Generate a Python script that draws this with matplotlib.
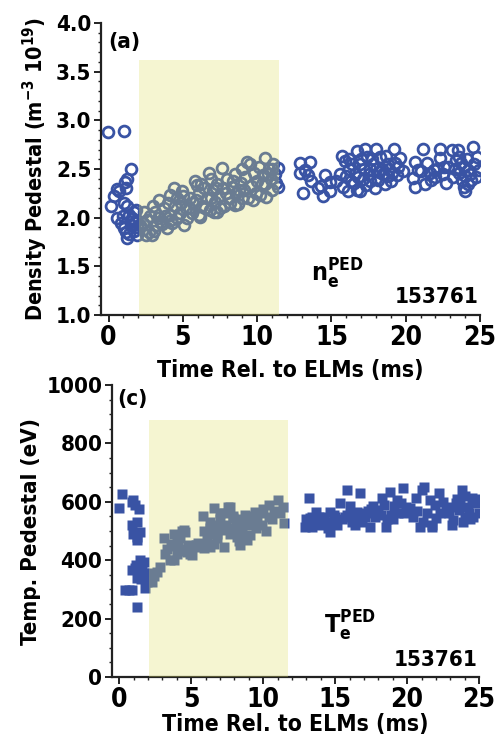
import matplotlib
matplotlib.use("Agg")
import matplotlib.pyplot as plt
from matplotlib.patches import Rectangle
from matplotlib.ticker import MultipleLocator, FormatStrFormatter
from matplotlib import font_manager

# ── Pedestal density, n_e (1e19 m^-3) vs time after ELM (ms) ─────────
ne_pre_t = [-0.05, 1.07, 1.52, 1.25, 1.14, 0.54, 0.70, 0.40, 0.18, 1.03, 1.25, 0.85, 1.37, 1.70,
            1.25, 1.70, 1.03, 1.81, 1.50, 0.95, 1.60, 1.15, 1.85, 0.60, 1.90, 1.40, 1.20, 1.90]
ne_pre_v = [2.88, 2.89, 2.50, 2.40, 2.37, 2.29, 2.27, 2.22, 2.12, 2.15, 2.12, 1.95, 2.03, 2.06,
            1.79, 1.86, 1.89, 1.96, 1.92, 2.02, 2.00, 1.85, 2.08, 2.00, 1.90, 1.83, 2.30, 1.82]

ne_mid_t = [2.10, 2.37, 2.50, 2.70, 3.04, 2.95, 3.15, 3.38, 3.50, 3.30, 3.70, 3.94, 4.00, 4.16,
            4.16, 4.30, 4.50, 4.60, 4.80, 4.94, 5.05, 5.20, 5.39, 5.50, 5.70, 5.95, 6.06, 6.10,
            6.30, 6.40, 6.60, 6.73, 6.80, 7.00, 7.07, 7.18, 7.30, 7.40, 7.63, 7.70, 7.80, 8.00,
            8.10, 8.30, 8.50, 8.60, 8.70, 8.90, 9.00, 9.10, 9.30, 9.40, 9.50, 9.60, 9.80, 9.90,
            10.0, 10.1, 10.2, 10.4, 10.5, 10.54, 10.6, 10.8, 10.9, 11.0, 11.1, 11.2, 11.3,
            5.80, 4.40, 6.90, 3.20, 6.17, 8.50, 7.30,
            2.30, 2.60, 2.80, 3.00, 3.60, 3.80, 4.20, 4.60, 4.90, 5.30, 5.60, 5.90, 6.20, 6.50,
            6.90, 7.20, 7.50, 7.90, 8.20, 8.40, 8.80, 9.20, 9.70, 10.3, 10.7, 11.0, 9.00, 5.00]
ne_mid_v = [1.92, 2.06, 1.82, 1.85, 1.86, 1.82, 2.06, 2.18, 1.96, 2.00, 2.10, 1.89, 2.15, 2.03,
            2.23, 1.95, 2.12, 2.20, 2.05, 2.27, 1.92, 2.10, 2.10, 2.20, 2.15, 2.34, 2.03, 2.25,
            2.12, 2.30, 2.20, 2.46, 2.08, 2.28, 2.06, 2.16, 2.35, 2.22, 2.51, 2.30, 2.12, 2.40,
            2.20, 2.32, 2.45, 2.25, 2.14, 2.36, 2.50, 2.28, 2.57, 2.20, 2.55, 2.33, 2.46, 2.25,
            2.38, 2.52, 2.23, 2.44, 2.61, 2.35, 2.21, 2.50, 2.40, 2.28, 2.55, 2.45, 2.36,
            2.38, 2.30, 2.40, 1.92, 2.01, 2.13, 2.06,
            1.95, 1.98, 2.02, 2.12, 1.93, 2.02, 1.98, 2.00, 2.15, 2.00, 2.05, 2.18, 2.35, 2.10,
            2.20, 2.30, 2.10, 2.25, 2.15, 2.38, 2.28, 2.42, 2.18, 2.35, 2.45, 2.50, 2.20, 2.22]

ne_post_t = [11.43, 11.43, 12.89, 13.56, 13.22, 13.10, 13.40, 14.10, 14.56, 14.90, 14.90, 14.30,
             15.68, 15.80, 16.13, 16.20, 15.90, 16.70, 17.25, 16.80, 17.20, 16.90, 17.30, 16.50,
             16.40, 17.00, 17.50, 17.60, 17.80, 18.00, 17.70, 18.00, 18.10, 18.30, 18.50, 18.70,
             18.80, 19.20, 19.30, 19.60, 19.40, 18.90, 18.40, 19.00, 19.50, 20.60, 20.50, 20.60,
             21.16, 21.40, 21.60, 21.70, 21.00, 22.30, 22.30, 22.10, 22.00, 22.85, 23.10, 23.50,
             23.40, 23.60, 23.80, 23.90, 24.00, 24.20, 24.50, 24.80, 24.90, 24.40, 23.70, 24.10,
             23.90, 24.30, 24.00, 24.60, 16.60, 17.10, 18.20, 16.00, 16.70, 21.90, 22.60,
             12.90, 13.60, 14.40, 15.30, 15.60, 16.30, 16.90, 17.40, 17.90, 18.60, 19.10, 19.80,
             20.80, 21.30, 22.50, 22.70, 23.30, 23.20, 24.70, 24.20, 23.60, 17.60, 18.80, 16.20]
ne_post_v = [2.51, 2.32, 2.56, 2.57, 2.49, 2.25, 2.44, 2.30, 2.44, 2.37, 2.27, 2.33,
             2.63, 2.32, 2.27, 2.50, 2.58, 2.68, 2.71, 2.42, 2.50, 2.27, 2.34, 2.36,
             2.55, 2.60, 2.45, 2.38, 2.55, 2.71, 2.60, 2.50, 2.39, 2.62, 2.45, 2.63,
             2.43, 2.71, 2.56, 2.61, 2.44, 2.50, 2.50, 2.38, 2.52, 2.57, 2.41, 2.32,
             2.71, 2.56, 2.46, 2.39, 2.48, 2.71, 2.61, 2.50, 2.42, 2.52, 2.69, 2.69,
             2.59, 2.46, 2.39, 2.32, 2.27, 2.49, 2.73, 2.62, 2.49, 2.39, 2.56, 2.60,
             2.52, 2.45, 2.43, 2.55, 2.45, 2.40, 2.47, 2.43, 2.28, 2.49, 2.52,
             2.46, 2.38, 2.22, 2.38, 2.45, 2.38, 2.55, 2.62, 2.30, 2.35, 2.46, 2.48,
             2.49, 2.35, 2.45, 2.36, 2.50, 2.42, 2.42, 2.35, 2.62, 2.50, 2.55, 2.60]

# ── Pedestal temperature, T_e (eV) vs time after ELM (ms) ────────────
te_pre_t = [-0.05, 0.18, 0.99, 1.10, 0.90, 1.34, 0.88, 1.20, 0.93, 1.23, 1.46, 1.20, 0.88, 1.46,
            1.14, 1.46, 1.70, 1.20, 1.53, 1.92, 1.80, 0.42, 0.70, 0.88, 1.23, 1.10, 1.60, 1.30,
            1.75, 1.90]
te_pre_v = [578, 627, 606, 590, 600, 574, 520, 530, 490, 480, 495, 470, 366, 400,
            385, 366, 355, 340, 335, 343, 305, 298, 298, 298, 239, 375, 380, 350,
            395, 325]

te_mid_t = [2.27, 2.27, 2.40, 2.85, 3.08, 3.30, 3.54, 3.77, 3.77, 3.87, 4.00, 4.00, 4.20, 4.35,
            4.33, 4.47, 4.60, 4.70, 4.81, 4.90, 5.05, 5.30, 5.40, 5.85, 5.86, 5.85, 6.30, 6.30,
            6.30, 6.30, 6.55, 6.80, 6.80, 7.00, 7.00, 7.10, 7.25, 7.59, 7.70, 7.70, 7.90, 7.90,
            8.15, 8.20, 8.20, 8.30, 8.40, 8.50, 8.60, 8.75, 8.80, 9.00, 9.10, 9.44, 9.90, 10.2,
            10.4, 10.4, 10.75, 11.06, 11.4, 11.48, 5.60, 6.10, 7.40, 9.60, 10.0,
            2.60, 3.20, 3.60, 4.10, 4.50, 5.00, 5.50, 5.90, 6.60, 6.90, 7.30, 7.80, 8.10, 8.60,
            9.20, 9.50, 9.80, 10.6, 11.2, 8.90]
te_mid_v = [355, 325, 345, 378, 475, 440, 400, 490, 401, 450, 420, 486, 475, 500,
            440, 503, 495, 429, 452, 420, 418, 452, 452, 452, 441, 551, 510, 444,
            490, 530, 578, 490, 475, 560, 540, 505, 446, 583, 490, 583, 550, 545,
            480, 500, 520, 466, 452, 500, 480, 555, 550, 520, 486, 566, 520, 500,
            589, 548, 570, 606, 583, 528, 445, 470, 520, 540, 575,
            360, 420, 455, 465, 430, 440, 460, 500, 455, 520, 560, 510, 540, 530,
            545, 510, 560, 540, 560, 470]

te_post_t = [13.15, 12.90, 13.38, 13.70, 13.26, 13.40, 14.20, 14.50, 14.80, 14.65, 14.65, 14.30,
             13.90, 15.10, 15.00, 15.35, 15.80, 15.80, 15.70, 16.16, 16.00, 16.50, 16.70, 16.20,
             17.10, 17.40, 17.60, 17.30, 17.00, 16.80, 18.00, 18.25, 18.60, 18.50, 18.80, 18.20,
             17.80, 19.10, 19.30, 19.74, 19.60, 19.95, 19.40, 20.40, 20.60, 21.00, 21.20, 21.10,
             20.90, 21.60, 21.70, 21.70, 21.94, 22.20, 22.50, 22.70, 22.30, 23.00, 23.20, 23.40,
             23.80, 24.00, 24.20, 24.50, 24.80, 25.00, 24.60, 23.90, 23.60, 23.10, 24.30, 24.00,
             23.50, 17.50, 16.40,
             13.50, 14.00, 14.90, 15.50, 16.10, 16.90, 17.70, 18.40, 19.00, 19.80, 20.20, 20.70,
             21.40, 22.00, 22.90, 23.70, 24.40, 24.90, 12.95, 18.90]
te_post_v = [612, 515, 549, 566, 543, 515, 549, 509, 532, 566, 498, 532,
             549, 521, 549, 595, 640, 555, 549, 532, 584, 566, 629, 540,
             549, 515, 586, 570, 560, 545, 572, 612, 540, 515, 635, 555,
             548, 586, 606, 646, 595, 583, 560, 549, 612, 640, 652, 532,
             515, 606, 521, 515, 589, 629, 600, 572, 560, 583, 538, 595,
             640, 549, 583, 612, 595, 560, 549, 532, 572, 521, 560, 620,
             610, 575, 520,
             530, 520, 555, 540, 560, 530, 560, 590, 540, 560, 580, 570,
             560, 545, 560, 590, 540, 610, 540, 555]

# shaded inter-ELM window (ms) and its upper extent in each panel
band_t0, band_t1 = 2.05, 11.5
ne_band_top = 3.62
te_band_top = 880

BLUE = "#3953a4"
BAND = "#dede69"

# bold condensed face if one is installed, else plain bold sans
has_condensed = any(f.name == "DejaVu Sans" and f.stretch == "condensed"
                    for f in font_manager.fontManager.ttflist)
STRETCH = "condensed" if has_condensed else "normal"
FONT = "DejaVu Sans" if has_condensed else "Liberation Sans"

plt.rcParams["font.family"] = [FONT, "DejaVu Sans"]
plt.rcParams["font.weight"] = "bold"
plt.rcParams["font.stretch"] = STRETCH
plt.rcParams["axes.labelweight"] = "bold"
plt.rcParams["mathtext.fontset"] = "custom"
plt.rcParams["mathtext.rm"] = f"{FONT}:weight=bold:stretch={STRETCH}"
plt.rcParams["mathtext.it"] = plt.rcParams["mathtext.rm"]
plt.rcParams["mathtext.bf"] = plt.rcParams["mathtext.rm"]
plt.rcParams["mathtext.default"] = "rm"

fig = plt.figure(figsize=(4.98, 7.42), dpi=100)
ax1 = fig.add_axes([0.203, 0.5755, 0.761, 0.3935])
ax2 = fig.add_axes([0.225, 0.0876, 0.737, 0.3935])


def style_axes(ax, xpad):
    for side in ("top", "right"):
        ax.spines[side].set_visible(False)
    for side in ("left", "bottom"):
        ax.spines[side].set_linewidth(1.6)
        ax.spines[side].set_color("#222222")
    ax.tick_params(which="major", direction="out", length=5, width=1.4, color="#222222")
    ax.tick_params(which="minor", direction="out", length=2.5, width=1.0, color="#222222")
    ax.tick_params(axis="x", labelsize=19, pad=2)
    ax.tick_params(axis="y", labelsize=16, pad=2)
    ax.xaxis.set_major_locator(MultipleLocator(5))
    ax.xaxis.set_minor_locator(MultipleLocator(1))
    ax.set_xlim(-0.5, 25)
    ax.set_xlabel("Time Rel. to ELMs (ms)", fontsize=16.5, labelpad=xpad)


# top: density
ax1.plot(ne_pre_t + ne_mid_t + ne_post_t, ne_pre_v + ne_mid_v + ne_post_v, "o",
         mfc="none", mec=BLUE, mew=2.0, ms=7.8, zorder=2)
ax1.add_patch(Rectangle((band_t0, 1.0), band_t1 - band_t0, ne_band_top - 1.0,
                        facecolor=BAND, edgecolor="none", alpha=0.3, zorder=3))
style_axes(ax1, xpad=6)
ax1.set_ylim(1.0, 4.0)
ax1.yaxis.set_major_locator(MultipleLocator(0.5))
ax1.yaxis.set_minor_locator(MultipleLocator(0.1))
ax1.yaxis.set_major_formatter(FormatStrFormatter("%.1f"))
ax1.set_ylabel("Density Pedestal (m$^{-3}$ 10$^{19}$)", fontsize=15.5, labelpad=4)
ax1.text(0.02, 0.97, "(a)", transform=ax1.transAxes, fontsize=16, va="top", ha="left")
ax1.text(13.6, 1.25, "n$_e^{PED}$", fontsize=18, ha="left", va="bottom")
ax1.text(24.9, 1.08, "153761", fontsize=16, ha="right", va="bottom")

# bottom: temperature
ax2.plot(te_pre_t + te_mid_t + te_post_t, te_pre_v + te_mid_v + te_post_v, "s",
         mfc=BLUE, mec="none", ms=6.5, zorder=2)
ax2.add_patch(Rectangle((band_t0, 0), band_t1 - band_t0 + 0.2, te_band_top,
                        facecolor=BAND, edgecolor="none", alpha=0.3, zorder=3))
style_axes(ax2, xpad=0)
ax2.set_ylim(0, 1000)
ax2.yaxis.set_major_locator(MultipleLocator(200))
ax2.yaxis.set_minor_locator(MultipleLocator(50))
ax2.set_ylabel("Temp. Pedestal (eV)", fontsize=16, labelpad=4)
ax2.text(0.015, 0.985, "(c)", transform=ax2.transAxes, fontsize=16, va="top", ha="left")
ax2.text(14.2, 115, "T$_e^{PED}$", fontsize=18, ha="left", va="bottom")
ax2.text(24.9, 25, "153761", fontsize=16, ha="right", va="bottom")

fig.savefig("out.png", dpi=100)
